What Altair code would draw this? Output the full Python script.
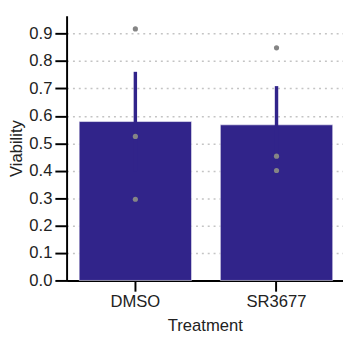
import altair as alt
import pandas as pd

treatments = ["DMSO", "DMSO", "DMSO", "SR3677", "SR3677", "SR3677"]
viability = [0.917, 0.525, 0.296, 0.848, 0.453, 0.401]
categories = ["DMSO", "SR3677"]
y_ticks = [0.0, 0.1, 0.2, 0.3, 0.4, 0.5, 0.6, 0.7, 0.8, 0.9]

df = pd.DataFrame({"Treatment": treatments, "Viability": viability})

BAR = "#31248A"
FONT = "Liberation Sans"

x_axis = alt.Axis(labelAngle=0, tickSize=11, labelPadding=3, titlePadding=8,
                  domainWidth=2, tickWidth=2, domainColor="black", tickColor="black",
                  labelColor="#222", titleColor="#222", labelFontSize=17, titleFontSize=17,
                  labelFont=FONT, titleFont=FONT, titleFontWeight="normal", grid=False)
x_scale = alt.Scale(paddingInner=0.204, paddingOuter=0.081, align=0.55)
y_scale = alt.Scale(domain=[0, 0.965], nice=False, zero=True)
y_axis = alt.Axis(values=y_ticks, format=".1f", tickSize=12, labelPadding=3, titlePadding=4,
                  labelOverlap=False, labelFlush=False,
                  domainWidth=2, tickWidth=2, domainColor="black", tickColor="black",
                  labelColor="#222", titleColor="#222", labelFontSize=17, titleFontSize=17,
                  labelFont=FONT, titleFont=FONT, titleFontWeight="normal",
                  grid=True, gridColor="#c4c4c4", gridDash=[2, 4], gridWidth=1.5)

x_enc = alt.X("Treatment:N", sort=categories, title="Treatment", scale=x_scale, axis=x_axis)

base = alt.Chart(df)

bars = base.mark_bar(color=BAR, stroke="#ffffff", strokeOpacity=0.55, strokeWidth=1).encode(
    x=x_enc,
    y=alt.Y("mean(Viability):Q", title="Viability", scale=y_scale, axis=y_axis),
)

errs = base.mark_errorbar(extent="stderr", color=BAR, thickness=3.5).encode(
    x=x_enc,
    y=alt.Y("Viability:Q", scale=y_scale, title="Viability", axis=y_axis),
)

pts = base.mark_circle(color="#858585", opacity=1, size=28).encode(
    x=x_enc,
    y=alt.Y("Viability:Q", scale=y_scale, title="Viability", axis=y_axis),
)

chart = (
    alt.layer(bars, errs, pts)
    .properties(
        width=283,
        height=271,
        autosize=alt.AutoSizeParams(type="none"),
        padding={"left": 60, "top": 4, "right": 0, "bottom": 56},
    )
    .configure_view(stroke=None)
)

chart.save("out.html", embed_options={"renderer": "svg", "actions": False})
